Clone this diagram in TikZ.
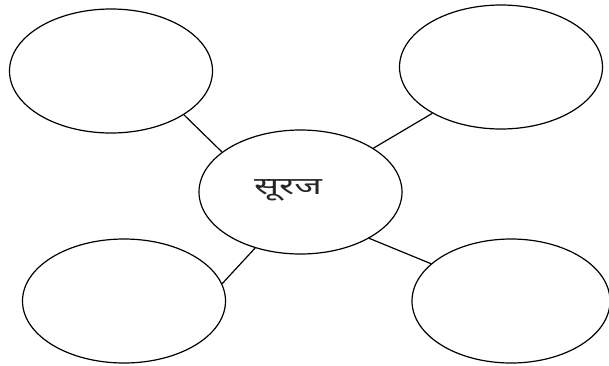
\documentclass[tikz,border=0pt]{standalone}
\usepackage{fontspec}
\newfontfamily\devfont[Script=Devanagari]{Noto Sans}
\usetikzlibrary{shapes}

\begin{document}
\begin{tikzpicture}[x=1pt,y=-1pt,line width=1.2pt,
  bubble/.style={draw,ellipse,minimum width=203pt,minimum height=124pt,inner sep=0pt}]
 \useasboundingbox (0,0) rectangle (609,365);
 \node[bubble] (sun) at (300.5,192) {};
 \node[anchor=center,xscale=1.55,text=black!85] (word) at (288,190) {\devfont\fontsize{24}{28}\selectfont सूरज};
 \node[bubble] (tl) at (111,71) {};
 \node[bubble] (tr) at (501,67) {};
 \node[bubble] (bl) at (124,301) {};
 \node[bubble,minimum width=198pt] (br) at (511,301) {};

 \draw (tl.-31) -- (sun.153);
 \draw (tr.-146) -- (sun.31);
 \draw (bl.10) -- (sun.231);
 \draw (br.155) -- (sun.-34);
\end{tikzpicture}
\end{document}
